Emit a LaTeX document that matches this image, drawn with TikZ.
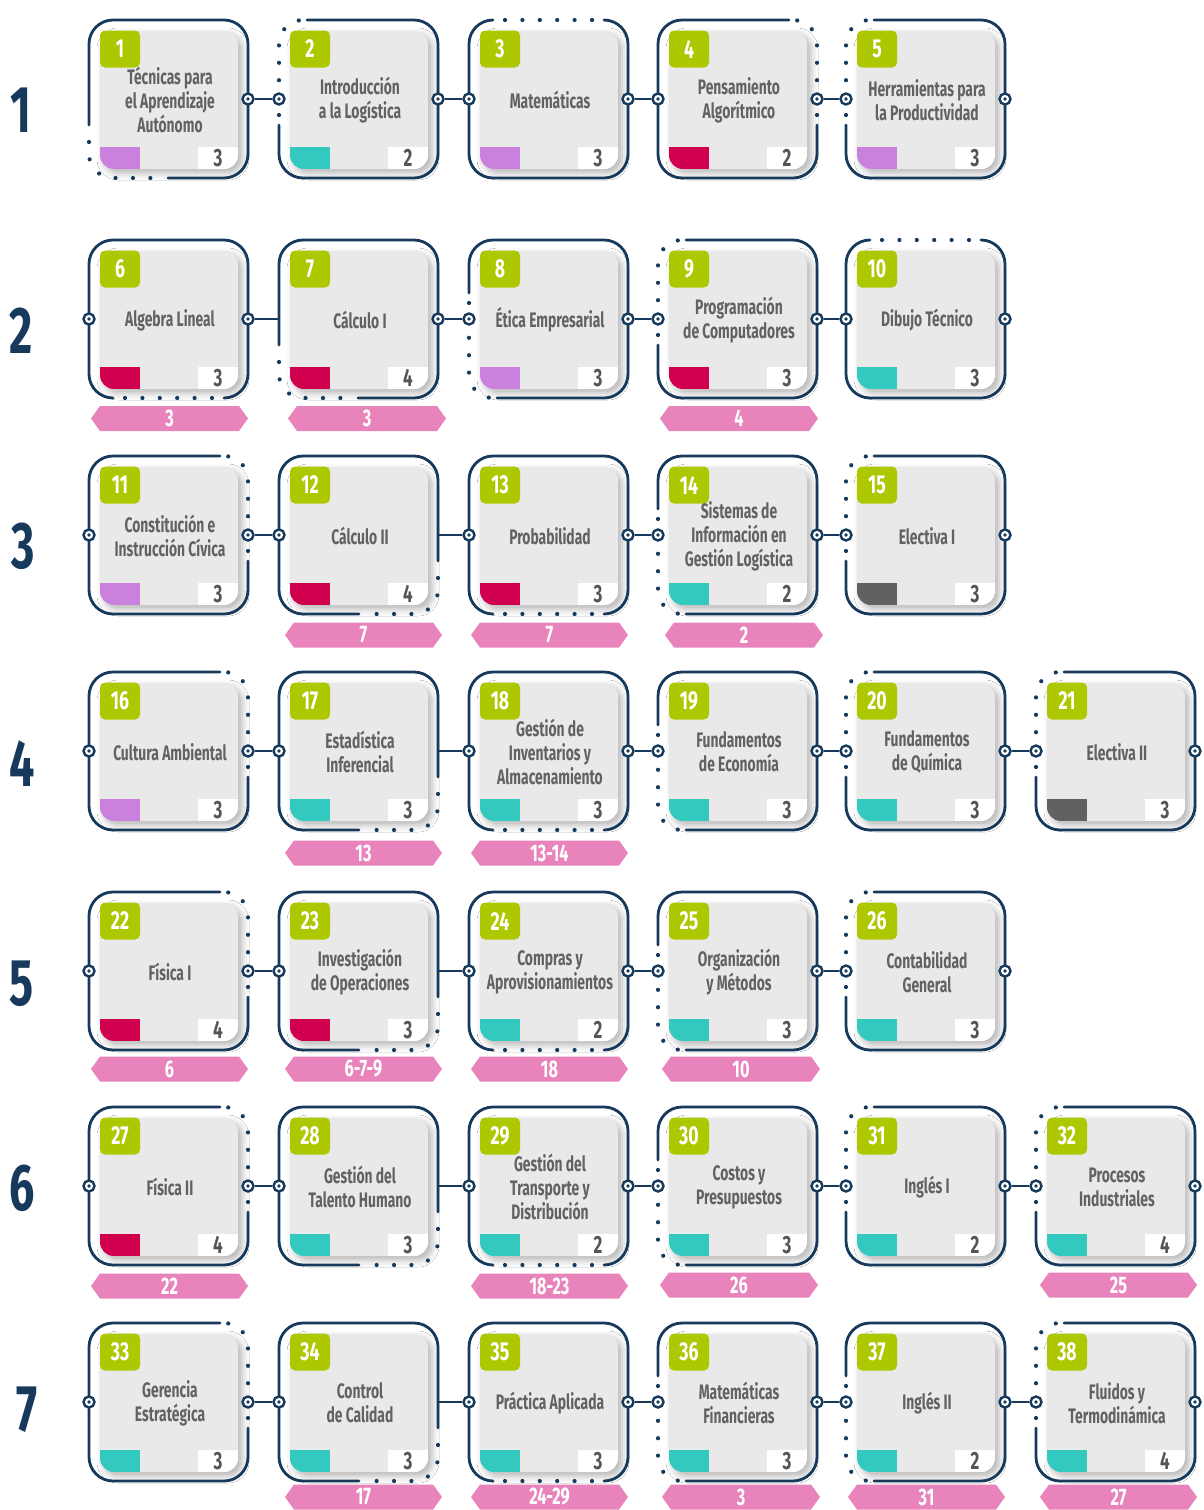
\documentclass[tikz,border=0pt]{standalone}
\usepackage{fontspec}
\setmainfont{Fira Sans}
\newfontfamily\titlefont{Fira Sans}[FakeStretch=0.66]
\newfontfamily\numfont{Fira Sans}[FakeStretch=0.68]
\usetikzlibrary{shadows.blur}
\definecolor{cnavy}{HTML}{173A5C}
\definecolor{clime}{HTML}{ADC800}
\definecolor{cgray}{HTML}{E9E9E9}
\definecolor{cpurp}{HTML}{C981DD}
\definecolor{ccrim}{HTML}{D0004E}
\definecolor{cteal}{HTML}{33C9BF}
\definecolor{cdark}{HTML}{616161}
\definecolor{cpink}{HTML}{E983BB}
\definecolor{ctext}{HTML}{626262}
\definecolor{ccred}{HTML}{555555}
\tikzset{
  bord/.style={draw=cnavy, line width=2.8pt, rounded corners=24pt, line cap=round},
  dotln/.style={draw=cnavy, line width=4.2pt, line cap=round, dash pattern=on 0pt off 17.4pt, rounded corners=24pt},
  body/.style={fill=cgray, rounded corners=14pt, minimum width=138pt, minimum height=138pt, inner sep=0pt,
    blur shadow={shadow xshift=4pt, shadow yshift=-4pt, shadow blur radius=7pt, shadow opacity=30}},
  tagbox/.style={fill=clime, rounded corners=5pt, minimum width=40pt, minimum height=37pt, inner sep=0pt,
    text=white, font=\numfont\bfseries\fontsize{26}{26}\selectfont},
  titletext/.style={text=ctext, align=center, font=\titlefont\bfseries\fontsize{21}{24}\selectfont, inner sep=0pt},
  credit/.style={text=ccred, font=\numfont\bfseries\fontsize{25}{25}\selectfont, inner sep=0pt},
  conn/.style={circle, draw=cnavy, fill=white, line width=2.4pt, minimum size=11pt, inner sep=0pt,
    path picture={\fill[cnavy] (path picture bounding box.center) circle (1.8pt);}},
  link/.style={draw=cnavy, line width=2.6pt},
  bantext/.style={text=white, font=\numfont\bfseries\fontsize{24}{24}\selectfont, inner sep=0pt},
  rownum/.style={text=cnavy, font=\numfont\bfseries\fontsize{66}{66}\selectfont, inner sep=0pt}
}
% border patterns
\newcommand\bordA{%
  \draw[bord] (\cL,\cM+26) -- (\cL,\cT) -- (\cR,\cT) -- (\cR,\cB) -- (\cL+79,\cB);
  \draw[dotln] (\cL,\cM+43) -- (\cL,\cB) -- (\cL+63,\cB);}
\newcommand\bordF{%
  \draw[bord] (\cR,\cM+26) -- (\cR,\cT) -- (\cL,\cT) -- (\cL,\cB) -- (\cR-79,\cB);
  \draw[dotln] (\cR,\cM+43) -- (\cR,\cB) -- (\cR-63,\cB);}
\newcommand\bordB{%
  \draw[bord] (\cL+28,\cT) -- (\cR,\cT) -- (\cR,\cB) -- (\cL,\cB) -- (\cL,\cM+26);
  \draw[dotln] (\cL,\cM+16) -- (\cL,\cT) -- (\cL+24,\cT);}
\newcommand\bordD{%
  \draw[bord] (\cR-28,\cT) -- (\cL,\cT) -- (\cL,\cB) -- (\cR,\cB) -- (\cR,\cM+26);
  \draw[dotln] (\cR,\cM+16) -- (\cR,\cT) -- (\cR-24,\cT);}
\newcommand\bordG{%
  \draw[bord] (\cL+28,\cB) -- (\cR,\cB) -- (\cR,\cT) -- (\cL,\cT) -- (\cL,\cM-26);
  \draw[dotln] (\cL,\cM-16) -- (\cL,\cB) -- (\cL+24,\cB);}
\newcommand\bordC{%
  \draw[bord] (\cL+24,\cT) -- (\cL,\cT) -- (\cL,\cB) -- (\cR,\cB) -- (\cR,\cT) -- (\cR-24,\cT);
  \draw[dotln] (\cL+36,\cT) -- (\cR-36,\cT);}
\newcommand\bordE{%
  \draw[bord] (\cL+24,\cB) -- (\cL,\cB) -- (\cL,\cT) -- (\cR,\cT) -- (\cR,\cB) -- (\cR-24,\cB);
  \draw[dotln] (\cL+36,\cB) -- (\cR-36,\cB);}
\def\pA{A}\def\pF{F}
% #1 number, #2 left, #3 top, #4 title, #5 colour, #6 credits, #7 pattern
\newcommand\mycard[7]{%
  \pgfmathsetmacro\cL{#2}\pgfmathsetmacro\cT{#3}%
  \pgfmathsetmacro\cR{#2+159}\pgfmathsetmacro\cB{#3+158}\pgfmathsetmacro\cM{#3+79}%
  \def\cpat{#7}%
  \node[body] (c#1) at (\cL+80,\cT+80) {};
  \begin{scope}
    \clip[rounded corners=14pt] (\cL+11,\cT+11) rectangle (\cR-10,\cB-9);
    \fill[#5] (\cL+11,\cB-31) rectangle (\cL+51,\cB-9);
    \fill[white] (\cR-50,\cB-31) rectangle (\cR-10,\cB-9);
  \end{scope}
  \node[tagbox] (c#1n) at (\cL+31,\cT+29) {#1};
  \node[credit] (c#1c) at (\cR-30,\cB-20) {#6};
  \node[titletext] (c#1t) at (\cL+81,\cM+1) {#4};
  \csname bord#7\endcsname
  \coordinate (c#1w) at (\cL,\cM);
  \coordinate (c#1e) at (\cR,\cM);
  \ifx\cpat\pA\else\node[conn] (c#1L) at (\cL,\cM) {};\fi
  \ifx\cpat\pF\else\node[conn] (c#1R) at (\cR,\cM) {};\fi
}
% #1 name, #2 x1, #3 x2, #4 yc, #5 text
\newcommand\banner[5]{%
  \fill[cpink] (#2,#4) -- (#2+9,#4-12.5) -- (#3-9,#4-12.5) -- (#3,#4) -- (#3-9,#4+12.5) -- (#2+9,#4+12.5) -- cycle;
  \node[bantext] (#1) at ({(#2+#3)/2},#4) {#5};
}
\begin{document}
\begin{tikzpicture}[x=1pt,y=-1pt]
\useasboundingbox (0,0) rectangle (1203,1510);
\fill[white] (0,0) rectangle (1203,1510);

% row numbers
\node[rownum] (r1) at (21,110) {1};
\node[rownum] (r2) at (21,331) {2};
\node[rownum] (r3) at (23,546) {3};
\node[rownum] (r4) at (22,764) {4};
\node[rownum] (r5) at (22,984) {5};
\node[rownum] (r6) at (22,1188) {6};
\node[rownum] (r7) at (27,1410) {7};

% row 1
\mycard{1}{89}{20}{Técnicas para\\el Aprendizaje\\Autónomo}{cpurp}{3}{A}
\mycard{2}{279}{20}{Introducción\\a la Logística}{cteal}{2}{B}
\mycard{3}{469}{20}{Matemáticas}{cpurp}{3}{C}
\mycard{4}{658}{20}{Pensamiento\\Algorítmico}{ccrim}{2}{D}
\mycard{5}{846}{20}{Herramientas para\\la Productividad}{cpurp}{3}{B}
% row 2
\mycard{6}{89}{240}{Algebra Lineal}{ccrim}{3}{E}
\mycard{7}{279}{240}{Cálculo I}{ccrim}{4}{A}
\mycard{8}{469}{240}{Ética Empresarial}{cpurp}{3}{G}
\mycard{9}{658}{240}{Programación\\de Computadores}{ccrim}{3}{B}
\mycard{10}{846}{240}{Dibujo Técnico}{cteal}{3}{C}
% row 3
\mycard{11}{89}{456}{Constitución e\\Instrucción Cívica}{cpurp}{3}{D}
\mycard{12}{279}{456}{Cálculo II}{ccrim}{4}{F}
\mycard{13}{469}{456}{Probabilidad}{ccrim}{3}{E}
\mycard{14}{658}{456}{Sistemas de\\Información en\\Gestión Logística}{cteal}{2}{G}
\mycard{15}{846}{456}{Electiva I}{cdark}{3}{B}
% row 4
\mycard{16}{89}{672}{Cultura Ambiental}{cpurp}{3}{D}
\mycard{17}{279}{672}{Estadística\\Inferencial}{cteal}{3}{F}
\mycard{18}{469}{672}{Gestión de\\Inventarios y\\Almacenamiento}{cteal}{3}{E}
\mycard{19}{658}{672}{Fundamentos\\de Economía}{cteal}{3}{G}
\mycard{20}{846}{672}{Fundamentos\\de Química}{cteal}{3}{B}
\mycard{21}{1036}{672}{Electiva II}{cdark}{3}{B}
% row 5
\mycard{22}{89}{892}{Física I}{ccrim}{4}{D}
\mycard{23}{279}{892}{Investigación\\de Operaciones}{ccrim}{3}{F}
\mycard{24}{469}{892}{Compras y\\Aprovisionamientos}{cteal}{2}{E}
\mycard{25}{658}{892}{Organización\\y Métodos}{cteal}{3}{G}
\mycard{26}{846}{892}{Contabilidad\\General}{cteal}{3}{B}
% row 6
\mycard{27}{89}{1107}{Física II}{ccrim}{4}{D}
\mycard{28}{279}{1107}{Gestión del\\Talento Humano}{cteal}{3}{F}
\mycard{29}{469}{1107}{Gestión del\\Transporte y\\Distribución}{cteal}{2}{E}
\mycard{30}{658}{1107}{Costos y\\Presupuestos}{cteal}{3}{G}
\mycard{31}{846}{1107}{Inglés I}{cteal}{2}{B}
\mycard{32}{1036}{1107}{Procesos\\Industriales}{cteal}{4}{B}
% row 7
\mycard{33}{89}{1323}{Gerencia\\Estratégica}{cteal}{3}{D}
\mycard{34}{279}{1323}{Control\\de Calidad}{cteal}{3}{F}
\mycard{35}{469}{1323}{Práctica Aplicada}{cteal}{3}{E}
\mycard{36}{658}{1323}{Matemáticas\\Financieras}{cteal}{3}{G}
\mycard{37}{846}{1323}{Inglés II}{cteal}{2}{G}
\mycard{38}{1036}{1323}{Fluidos y\\Termodinámica}{cteal}{4}{B}

% connectors
\draw[link] (c1R) -- (c2L); \draw[link] (c2R) -- (c3L); \draw[link] (c3R) -- (c4L); \draw[link] (c4R) -- (c5L);
\draw[link] (c6R) -- (c7w); \draw[link] (c7R) -- (c8L); \draw[link] (c8R) -- (c9L); \draw[link] (c9R) -- (c10L);
\draw[link] (c11R) -- (c12L); \draw[link] (c12e) -- (c13L); \draw[link] (c13R) -- (c14L); \draw[link] (c14R) -- (c15L);
\draw[link] (c16R) -- (c17L); \draw[link] (c17e) -- (c18L); \draw[link] (c18R) -- (c19L); \draw[link] (c19R) -- (c20L); \draw[link] (c20R) -- (c21L);
\draw[link] (c22R) -- (c23L); \draw[link] (c23e) -- (c24L); \draw[link] (c24R) -- (c25L); \draw[link] (c25R) -- (c26L);
\draw[link] (c27R) -- (c28L); \draw[link] (c28e) -- (c29L); \draw[link] (c29R) -- (c30L); \draw[link] (c30R) -- (c31L); \draw[link] (c31R) -- (c32L);
\draw[link] (c33R) -- (c34L); \draw[link] (c34e) -- (c35L); \draw[link] (c35R) -- (c36L); \draw[link] (c36R) -- (c37L); \draw[link] (c37R) -- (c38L);

% prerequisite banners
\banner{p6}{91}{248}{418.5}{3}
\banner{p7}{288}{446}{418.5}{3}
\banner{p9}{660}{818}{418.5}{4}
\banner{p12}{285}{442}{635}{7}
\banner{p13}{471}{628}{635}{7}
\banner{p14}{665}{823}{635}{2}
\banner{p17}{285}{442}{853}{13}
\banner{p18}{471}{628}{853}{13-14}
\banner{p22}{91}{248}{1069}{6}
\banner{p23}{285}{442}{1069}{6-7-9}
\banner{p24}{471}{628}{1069}{18}
\banner{p25}{662}{820}{1069}{10}
\banner{p27}{91}{248}{1286}{22}
\banner{p29}{471}{628}{1286}{18-23}
\banner{p30}{660}{818}{1285}{26}
\banner{p32}{1040}{1197}{1285}{25}
\banner{p34}{285}{442}{1497}{17}
\banner{p35}{471}{628}{1497}{24-29}
\banner{p36}{662}{820}{1497}{3}
\banner{p37}{848}{1005}{1497}{31}
\banner{p38}{1040}{1197}{1497}{27}
\end{tikzpicture}
\end{document}
